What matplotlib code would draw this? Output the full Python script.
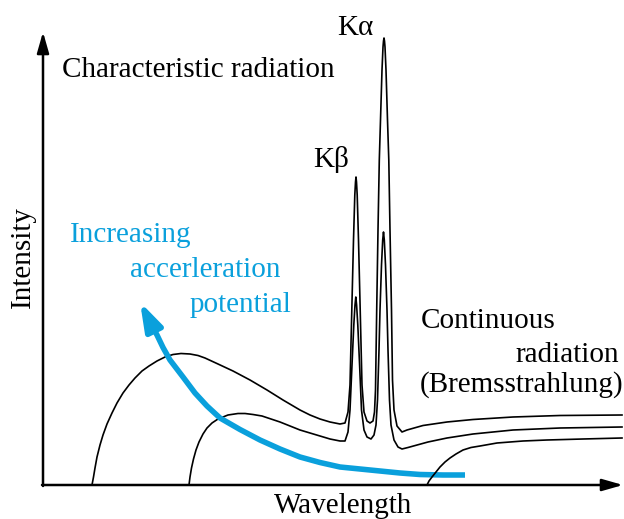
import matplotlib.pyplot as plt
from matplotlib.path import Path
from matplotlib.patches import FancyArrowPatch

# schematic X-ray tube spectrum, arbitrary units (wavelength, intensity)
# highest tube voltage: continuum + K beta / K alpha lines
wl_high = [49, 50.5, 52, 54, 57, 60, 64, 69, 74, 80, 86, 92, 99, 106, 114, 122, 130,
           138, 147, 155, 162, 175, 190, 207, 224, 240, 257, 267, 277, 287, 297, 302,
           305, 307, 308.8, 310.5, 311.8, 312.5, 313, 313.5, 314.2, 315.5, 317.2, 319,
           321, 324, 327, 330, 331.5, 332.5, 333.7, 335, 336.3, 337.5, 339, 340, 340.5,
           341, 341.5, 342, 343, 344.5, 345.8, 347, 348.5, 349.5, 351, 354, 359, 364,
           380, 404, 430, 470, 517, 579]
int_high = [0, 8, 17, 28, 40, 50, 61, 72, 82, 92, 100, 107, 114, 119, 124, 128, 130.5,
            131.5, 131, 129.5, 127, 121, 114, 105, 95, 85, 75, 70, 66, 63, 61, 62,
            73, 100, 175, 245, 290, 303, 308, 303, 290, 245, 175, 100,
            73, 64, 62, 64, 73, 95, 175, 255, 325, 365, 415, 438, 444,
            447, 444, 438, 415, 365, 325, 255, 175, 105, 75, 59, 53, 55,
            59.5, 63, 65.5, 68, 69.5, 70]

# middle tube voltage
wl_mid = [146, 147, 148.5, 150.5, 153, 156, 160, 164, 169, 175, 185, 195, 202, 210, 219,
          228, 237, 247, 257, 267, 277, 287, 297, 302,
          305, 307, 309, 310.8, 312, 312.8, 313.6, 314.8, 316.6, 318.5, 321, 324, 328,
          331, 333, 334.5, 336, 337, 338.5, 339.7, 340.5, 341.3, 342.5, 344, 345, 346.5,
          348, 351, 355, 359, 365, 385, 404, 430, 470, 517, 579]
int_mid = [0, 8, 17, 26, 35, 43, 51, 57, 62, 66, 70, 71.5, 71.5, 70.5, 69,
           66, 63, 59, 55, 52, 49, 46, 44, 44,
           53, 75, 120, 160, 180, 188, 180, 160, 120, 75, 55, 48, 46,
           50, 60, 85, 135, 175, 220, 245, 253, 245, 220, 175, 135, 85,
           60, 45, 38, 36, 37.5, 43, 47, 51, 55, 57, 58]

# lowest tube voltage: continuum only
wl_low = [384, 386, 389, 393, 397, 402, 407, 413, 420, 428, 437, 454, 480, 504, 540, 579]
int_low = [0, 4, 8, 13, 18, 23, 27, 31, 35, 37.5, 39, 42, 44, 45, 46, 47]

# blue "increasing potential" arrow, tail -> head
arrow_wl = [422, 400, 377, 357, 337, 317, 297, 277, 257, 237, 217, 197, 177, 164, 152,
            140, 127, 120, 114, 109, 105, 97]
arrow_int = [10, 10, 10.5, 12, 14, 16, 18, 22.5, 28, 36, 45, 55.5, 67, 79, 92,
             108, 125, 137.5, 150, 159, 167, 183]

blue = '#0aa0dc'
plt.rcParams['font.family'] = ['Liberation Serif', 'DejaVu Serif']
fs = 21

fig = plt.figure(figsize=(6.24, 5.19), dpi=100)
ax = fig.add_axes([0, 0, 1, 1])
ax.set_xlim(-43, 581)
ax.set_ylim(-34, 485)
ax.axis('off')

# axes with arrow heads
ax.annotate('', xy=(580, 0), xytext=(-1, 0),
            arrowprops=dict(arrowstyle='-|>,head_length=0.7,head_width=0.2',
                            lw=1.8, color='k', mutation_scale=18, shrinkA=0, shrinkB=0))
ax.annotate('', xy=(0, 453), xytext=(0, -1),
            arrowprops=dict(arrowstyle='-|>,head_length=0.7,head_width=0.2',
                            lw=1.8, color='k', mutation_scale=18, shrinkA=0, shrinkB=0))

ax.plot(wl_high, int_high, color='k', lw=1.2, zorder=2, solid_joinstyle='round')
ax.plot(wl_mid, int_mid, color='k', lw=1.2, zorder=2, solid_joinstyle='round')
ax.plot(wl_low, int_low, color='k', lw=1.2, zorder=4, solid_joinstyle='round')

arr = FancyArrowPatch(path=Path(list(zip(arrow_wl, arrow_int))),
                      arrowstyle='-|>,head_length=1.4,head_width=0.45',
                      mutation_scale=12, lw=4, color=blue, shrinkA=0, shrinkB=0,
                      joinstyle='round', capstyle='butt', zorder=3)
ax.add_patch(arr)

ax.text(19, 408, 'Characteristic radiation', fontsize=fs, va='baseline')
ax.text(294, 450, 'Kα', fontsize=fs, va='baseline')
ax.text(270, 318, 'Kβ', fontsize=fs, va='baseline')
ax.text(27, 243, 'Increasing', fontsize=fs, va='baseline', color=blue)
ax.text(87, 208, 'accerleration', fontsize=fs, va='baseline', color=blue)
ax.text(147, 173, 'potential', fontsize=fs, va='baseline', color=blue)
ax.text(378, 157, 'Continuous', fontsize=fs, va='baseline')
ax.text(472, 123, 'radiation', fontsize=fs, va='baseline')
ax.text(377, 93, '(Bremsstrahlung)', fontsize=fs, va='baseline')
ax.text(-20, 228, 'Intensity', fontsize=fs, rotation=90, ha='center', va='center')
ax.text(300, -28, 'Wavelength', fontsize=fs, ha='center', va='baseline')

fig.savefig('out.png', dpi=100)
